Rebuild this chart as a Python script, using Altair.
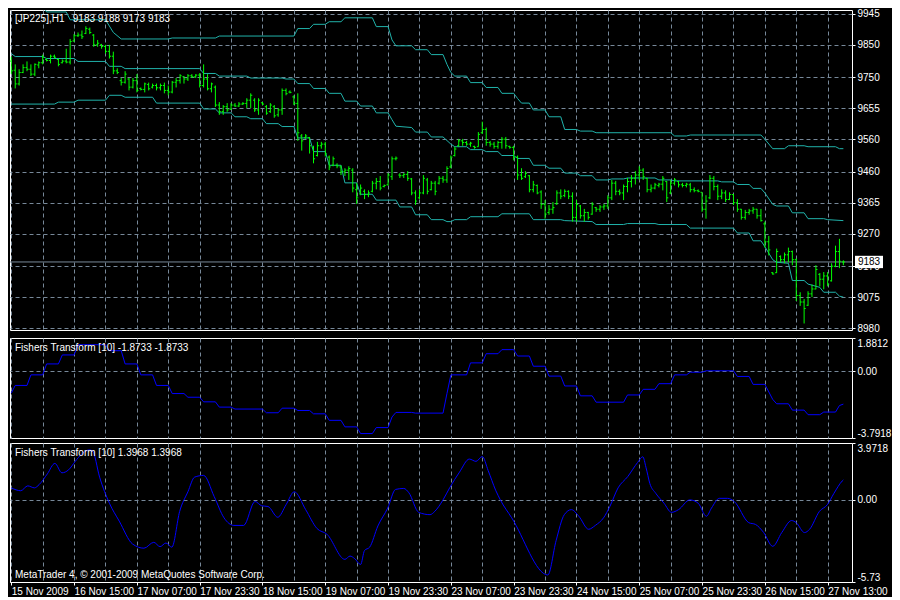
import json
import altair as alt
import pandas as pd

# ---------------------------------------------------------------- texts
symbol_title = "[JP225],H1\u00a0\u00a0 9183 9188 9173 9183"
fisher_slow_title = "Fishers Transform [10] -1.8733 -1.8733"
fisher_fast_title = "Fishers Transform [10] 1.3968 1.3968"
footer_text = "MetaTrader 4, \u00a9 2001-2009 MetaQuotes Software Corp."

# one label every 16 hourly bars
time_labels = ["15 Nov 2009", "16 Nov 15:00", "17 Nov 07:00", "17 Nov 23:30",
               "18 Nov 15:00", "19 Nov 07:00", "19 Nov 23:30", "23 Nov 07:00",
               "23 Nov 23:30", "24 Nov 15:00", "25 Nov 07:00", "25 Nov 23:30",
               "26 Nov 15:00", "27 Nov 13:00"]

last_price = 9183
price_ticks = [9945, 9850, 9750, 9655, 9560, 9460, 9365, 9270, 9170, 9075, 8980]
price_domain = [8974, 9957]

# ---------------------------------------------------------------- OHLC (H1 bars)
bar_open = [
    9800, 9772, 9730, 9765, 9780, 9775, 9760, 9788, 9795, 9805,
    9802, 9815, 9805, 9795, 9800, 9797, 9862, 9878, 9880, 9885,
    9898, 9880, 9850, 9850, 9845, 9830, 9815, 9770, 9740, 9735,
    9745, 9720, 9740, 9716, 9713, 9728, 9720, 9725, 9718, 9725,
    9710, 9705, 9735, 9740, 9752, 9745, 9755, 9752, 9757, 9725,
    9745, 9715, 9720, 9665, 9645, 9660, 9652, 9665, 9662, 9668,
    9670, 9680, 9680, 9650, 9672, 9660, 9645, 9660, 9635, 9650,
    9710, 9705, 9690, 9670, 9570, 9565, 9565, 9535, 9510, 9540,
    9545, 9505, 9480, 9480, 9475, 9460, 9465, 9465, 9405, 9392,
    9400, 9390, 9400, 9425, 9430, 9415, 9420, 9445, 9500, 9450,
    9448, 9452, 9438, 9395, 9380, 9395, 9435, 9405, 9425, 9425,
    9440, 9435, 9475, 9510, 9540, 9555, 9550, 9545, 9538, 9537,
    9580, 9590, 9550, 9545, 9538, 9550, 9560, 9538, 9535, 9505,
    9450, 9445, 9448, 9405, 9418, 9398, 9360, 9335, 9345, 9362,
    9395, 9387, 9400, 9385, 9320, 9355, 9325, 9335, 9330, 9350,
    9345, 9352, 9355, 9380, 9425, 9400, 9395, 9415, 9430, 9440,
    9450, 9465, 9440, 9405, 9410, 9418, 9422, 9430, 9395, 9425,
    9430, 9420, 9418, 9420, 9405, 9402, 9397, 9345, 9380, 9440,
    9415, 9385, 9395, 9375, 9390, 9365, 9345, 9320, 9335, 9340,
    9345, 9325, 9300, 9245, 9150, 9150, 9200, 9190, 9205, 9215,
    9190, 9080, 9060, 9050, 9085, 9100, 9145, 9130, 9140, 9125,
    9170, 9215, 9183]
bar_high = [
    9814, 9790, 9775, 9790, 9799, 9790, 9793, 9799, 9820, 9808,
    9820, 9820, 9808, 9805, 9838, 9868, 9883, 9888, 9894, 9907,
    9903, 9883, 9865, 9853, 9850, 9850, 9829, 9778, 9748, 9769,
    9748, 9748, 9760, 9719, 9734, 9734, 9731, 9731, 9731, 9734,
    9725, 9739, 9748, 9760, 9754, 9760, 9760, 9760, 9763, 9790,
    9760, 9734, 9725, 9674, 9665, 9671, 9671, 9671, 9674, 9674,
    9686, 9701, 9686, 9686, 9674, 9665, 9671, 9665, 9656, 9716,
    9716, 9710, 9695, 9701, 9576, 9576, 9567, 9540, 9552, 9552,
    9552, 9510, 9507, 9486, 9480, 9471, 9477, 9471, 9426, 9421,
    9406, 9403, 9432, 9441, 9447, 9421, 9456, 9507, 9507, 9456,
    9456, 9462, 9441, 9403, 9406, 9450, 9441, 9432, 9432, 9447,
    9447, 9477, 9510, 9537, 9561, 9561, 9555, 9552, 9540, 9582,
    9614, 9596, 9555, 9552, 9555, 9567, 9567, 9540, 9540, 9510,
    9471, 9462, 9450, 9432, 9421, 9403, 9373, 9358, 9367, 9403,
    9406, 9406, 9403, 9397, 9373, 9358, 9346, 9337, 9367, 9352,
    9358, 9361, 9388, 9435, 9432, 9406, 9421, 9441, 9450, 9462,
    9477, 9471, 9441, 9421, 9426, 9426, 9447, 9432, 9435, 9441,
    9432, 9426, 9426, 9426, 9412, 9406, 9397, 9388, 9450, 9447,
    9421, 9406, 9403, 9397, 9391, 9376, 9346, 9343, 9346, 9352,
    9346, 9346, 9307, 9263, 9152, 9224, 9203, 9212, 9227, 9218,
    9194, 9090, 9069, 9093, 9114, 9173, 9149, 9152, 9152, 9179,
    9233, 9254, 9188]
bar_low = [
    9760, 9716, 9725, 9763, 9769, 9754, 9754, 9778, 9790, 9799,
    9793, 9808, 9784, 9793, 9793, 9790, 9859, 9874, 9868, 9883,
    9883, 9844, 9844, 9838, 9823, 9808, 9760, 9760, 9725, 9731,
    9710, 9716, 9704, 9710, 9704, 9710, 9716, 9710, 9710, 9701,
    9695, 9701, 9719, 9731, 9731, 9739, 9748, 9748, 9719, 9719,
    9710, 9704, 9659, 9635, 9635, 9644, 9650, 9659, 9659, 9665,
    9656, 9656, 9644, 9635, 9665, 9635, 9641, 9626, 9629, 9635,
    9695, 9701, 9665, 9555, 9525, 9561, 9516, 9486, 9507, 9531,
    9507, 9465, 9477, 9471, 9450, 9447, 9435, 9397, 9361, 9388,
    9376, 9382, 9397, 9406, 9403, 9412, 9418, 9435, 9495, 9441,
    9441, 9432, 9388, 9358, 9376, 9391, 9391, 9403, 9388, 9421,
    9426, 9426, 9471, 9507, 9537, 9540, 9540, 9537, 9531, 9537,
    9576, 9540, 9537, 9531, 9531, 9531, 9531, 9531, 9495, 9435,
    9435, 9441, 9397, 9397, 9391, 9346, 9316, 9328, 9331, 9358,
    9376, 9382, 9376, 9307, 9307, 9316, 9307, 9313, 9328, 9337,
    9337, 9343, 9346, 9373, 9388, 9388, 9373, 9397, 9412, 9421,
    9435, 9435, 9397, 9397, 9406, 9412, 9403, 9367, 9391, 9418,
    9412, 9412, 9412, 9397, 9397, 9397, 9337, 9316, 9376, 9403,
    9373, 9376, 9367, 9373, 9358, 9337, 9313, 9313, 9328, 9331,
    9316, 9307, 9227, 9203, 9144, 9149, 9182, 9179, 9182, 9173,
    9063, 9048, 8994, 9048, 9075, 9099, 9108, 9099, 9108, 9123,
    9167, 9164, 9173]
bar_close = [
    9770, 9730, 9765, 9780, 9775, 9760, 9790, 9795, 9812, 9802,
    9815, 9812, 9790, 9800, 9797, 9860, 9878, 9880, 9875, 9900,
    9888, 9850, 9855, 9845, 9830, 9815, 9770, 9765, 9735, 9760,
    9720, 9740, 9710, 9713, 9730, 9715, 9725, 9718, 9725, 9710,
    9705, 9735, 9740, 9755, 9745, 9755, 9752, 9757, 9725, 9745,
    9715, 9730, 9665, 9645, 9660, 9650, 9665, 9662, 9668, 9670,
    9680, 9695, 9650, 9680, 9668, 9640, 9665, 9632, 9650, 9710,
    9700, 9704, 9670, 9580, 9555, 9570, 9540, 9500, 9540, 9545,
    9515, 9475, 9500, 9478, 9460, 9465, 9470, 9410, 9380, 9410,
    9390, 9395, 9425, 9430, 9410, 9418, 9450, 9500, 9502, 9448,
    9452, 9440, 9395, 9370, 9395, 9440, 9400, 9425, 9400, 9440,
    9435, 9470, 9505, 9530, 9555, 9550, 9545, 9548, 9535, 9575,
    9590, 9550, 9545, 9538, 9550, 9560, 9540, 9535, 9505, 9450,
    9440, 9455, 9405, 9420, 9395, 9360, 9330, 9345, 9350, 9395,
    9385, 9400, 9385, 9320, 9360, 9325, 9335, 9320, 9360, 9345,
    9352, 9355, 9380, 9425, 9400, 9395, 9415, 9430, 9440, 9450,
    9465, 9445, 9405, 9410, 9420, 9422, 9440, 9380, 9425, 9435,
    9420, 9418, 9422, 9405, 9402, 9400, 9345, 9370, 9440, 9415,
    9385, 9395, 9375, 9390, 9365, 9345, 9320, 9335, 9340, 9345,
    9325, 9310, 9245, 9220, 9146, 9215, 9190, 9205, 9215, 9190,
    9080, 9060, 9040, 9085, 9100, 9160, 9130, 9140, 9115, 9170,
    9215, 9185, 9183]

# ---------------------------------------------------------------- channel lines (bar index, price)
upper_band = [
    (0, 9978), (8, 9969), (9, 9951), (14, 9951), (15, 9927), (24, 9927), (26, 9888),
    (28, 9868), (40, 9868), (41, 9871), (52, 9871), (53, 9877), (72, 9877), (73, 9900),
    (76, 9900), (77, 9913), (80, 9913), (81, 9921), (84, 9921), (85, 9933), (92, 9933),
    (93, 9906), (96, 9906), (97, 9865), (98, 9847), (102, 9847), (103, 9835), (106, 9835),
    (107, 9820), (110, 9820), (111, 9790), (112, 9765), (113, 9754), (116, 9754),
    (117, 9734), (120, 9734), (121, 9719), (124, 9719), (125, 9701), (128, 9701),
    (129, 9685), (130, 9671), (132, 9671), (133, 9650), (136, 9650), (137, 9629),
    (140, 9629), (141, 9590), (144, 9590), (145, 9585), (148, 9585), (149, 9580),
    (168, 9580), (169, 9570), (172, 9570), (173, 9573), (191, 9573), (192, 9560),
    (194, 9531), (197, 9531), (198, 9540), (202, 9540), (203, 9537), (210, 9537),
    (211, 9531), (212, 9531)]
middle_band = [
    (0, 9823), (1, 9814), (8, 9814), (9, 9808), (16, 9808), (17, 9799), (24, 9799),
    (25, 9784), (28, 9784), (29, 9777), (48, 9777), (49, 9762), (52, 9762), (53, 9754),
    (60, 9754), (61, 9748), (69, 9748), (70, 9745), (72, 9745), (73, 9731), (76, 9731),
    (77, 9716), (80, 9716), (81, 9701), (84, 9701), (85, 9677), (88, 9677), (89, 9662),
    (92, 9662), (93, 9641), (96, 9641), (97, 9620), (98, 9600), (102, 9596), (103, 9582),
    (106, 9582), (107, 9567), (110, 9567), (112, 9545), (113, 9537), (116, 9537),
    (117, 9528), (120, 9528), (121, 9522), (124, 9522), (125, 9510), (128, 9510),
    (129, 9501), (132, 9501), (133, 9480), (136, 9480), (137, 9471), (140, 9471),
    (141, 9456), (144, 9456), (145, 9448), (148, 9448), (149, 9435), (152, 9435),
    (153, 9438), (156, 9438), (157, 9441), (164, 9441), (165, 9435), (168, 9435),
    (169, 9432), (180, 9432), (181, 9429), (184, 9429), (185, 9421), (188, 9421),
    (189, 9409), (191, 9409), (192, 9395), (194, 9360), (195, 9355), (198, 9355),
    (199, 9334), (202, 9334), (203, 9316), (207, 9316), (208, 9313), (212, 9310)]
lower_band = [
    (0, 9668), (11, 9668), (12, 9674), (16, 9674), (17, 9680), (24, 9680), (25, 9695),
    (28, 9695), (29, 9689), (36, 9689), (37, 9671), (48, 9671), (49, 9653), (52, 9653),
    (53, 9641), (56, 9641), (57, 9629), (60, 9629), (61, 9623), (64, 9623), (65, 9608),
    (68, 9608), (69, 9599), (72, 9599), (73, 9564), (76, 9564), (77, 9522), (80, 9522),
    (81, 9480), (84, 9480), (85, 9426), (88, 9426), (89, 9391), (92, 9391), (93, 9373),
    (98, 9373), (99, 9352), (102, 9352), (103, 9328), (106, 9328), (107, 9313),
    (110, 9313), (111, 9307), (112, 9307), (113, 9313), (116, 9313), (117, 9322),
    (124, 9322), (125, 9331), (132, 9331), (133, 9313), (140, 9313), (141, 9310),
    (148, 9307), (149, 9298), (156, 9298), (157, 9301), (164, 9301), (165, 9298),
    (172, 9298), (173, 9287), (184, 9287), (185, 9272), (188, 9272), (189, 9248),
    (191, 9248), (192, 9230), (194, 9190), (195, 9182), (198, 9179), (199, 9126),
    (202, 9126), (203, 9115), (206, 9105), (207, 9090), (210, 9090), (211, 9078),
    (212, 9075)]

# ---------------------------------------------------------------- Fisher transforms
fisher_slow = [
    (0, -1.25), (1, -0.81), (4, -0.81), (5, -0.21), (8, -0.21), (9, 0.41), (12, 0.41),
    (13, 0.92), (16, 0.92), (17, 1.50), (24, 1.50), (25, 1.16), (28, 1.16), (29, 0.41),
    (32, 0.41), (33, -0.21), (36, -0.21), (37, -0.81), (40, -0.81), (41, -1.27),
    (44, -1.27), (45, -1.48), (48, -1.48), (49, -1.74), (52, -1.74), (53, -2.04),
    (56, -2.04), (57, -2.15), (64, -2.15), (65, -2.36), (68, -2.36), (69, -2.10),
    (72, -2.10), (73, -2.23), (76, -2.23), (77, -2.42), (80, -2.42), (81, -2.79),
    (84, -2.79), (85, -3.16), (88, -3.16), (89, -3.54), (92, -3.54), (93, -3.20),
    (96, -3.20), (97, -2.60), (98, -2.34), (102, -2.34), (103, -2.38), (110, -2.38),
    (111, -1.27), (112, -0.21), (116, -0.21), (117, 0.47), (120, 0.47), (121, 0.99),
    (124, 0.99), (125, 1.22), (128, 1.22), (129, 0.86), (132, 0.86), (133, 0.28),
    (136, 0.28), (137, -0.28), (140, -0.28), (141, -0.84), (144, -0.84), (145, -1.40),
    (148, -1.40), (149, -1.76), (156, -1.76), (157, -1.35), (160, -1.35), (161, -1.03),
    (164, -1.03), (165, -0.71), (168, -0.71), (169, -0.21), (172, -0.21), (173, -0.06),
    (176, -0.06), (177, 0.02), (184, 0.02), (185, -0.30), (188, -0.30), (189, -0.75),
    (192, -0.75), (194, -1.60), (195, -1.85), (198, -1.85), (199, -2.21), (202, -2.21),
    (203, -2.47), (206, -2.47), (207, -2.32), (210, -2.32), (211, -1.95), (212, -1.87)]
fisher_fast = [
    (0, 0.84), (2.4, 0.64), (4.2, 0.98), (5.9, 0.84), (7.1, 1.07), (9.2, 1.82),
    (11.1, 2.55), (12.9, 1.89), (14.6, 2.10), (16.3, 2.69), (17.9, 3.19), (19.9, 3.49),
    (20.7, 3.42), (22.5, 1.59), (25, -0.23), (27.5, -1.48), (30.9, -3.08), (33.8, -3.37),
    (36.3, -2.96), (37.9, -3.26), (39.4, -3.01), (40.9, -3.30), (42.9, -0.80), (45, 0.57),
    (46.7, 1.59), (49, 1.71), (51.7, 0.23), (54.2, -1.25), (56.7, -1.78), (59.2, -1.78),
    (62.1, -0.11), (63.8, -0.41), (65.4, -0.46), (67.9, -1.21), (70, -0.34), (72.1, 0.57),
    (75, -0.68), (77.9, -2.00), (80.4, -2.39), (85, -4.15), (86.3, -3.92), (87.5, -4.10),
    (89, -4.51), (90, -3.53), (91.3, -3.30), (93.4, -1.82), (95.9, -0.57), (97.9, 0.73),
    (100, 0.80), (101.3, 0.50), (103.8, -0.87), (106.7, -1.03), (107.9, -0.80),
    (110, 0.00), (111.7, 0.85), (114.2, 1.94), (116.7, 2.85), (118.4, 2.69), (120, 3.03),
    (121.5, 2.05), (123.4, 0.68), (124.6, 0.00), (127.5, -1.25), (136.7, -5.24),
    (138.8, -2.85), (140.9, -1.03), (142.7, -0.68), (144.6, -1.14), (147.1, -2.05),
    (148.8, -1.78), (150.9, -1.25), (152.5, -0.46), (154.6, 0.84), (157.1, 1.64),
    (159.6, 2.62), (160.9, 3.01), (161.7, 2.28), (162.7, 1.14), (164.2, 0.46),
    (166.3, -0.23), (168.2, -0.87), (170, -0.68), (172.9, 0.00), (175, -0.23),
    (177.1, -1.14), (178.4, -0.57), (180.4, 0.11), (182.5, 0.11), (184.2, -0.11),
    (187.9, -1.59), (189.6, -1.71), (191.7, -2.28), (194, -3.24), (196.3, -2.28),
    (198.8, -1.44), (200, -1.59), (202.1, -2.28), (203.4, -2.05), (205.9, -0.80),
    (207.9, -0.34), (209.6, 0.46), (211.7, 1.32), (212, 1.40)]

fisher_slow_domain = [-3.7918, 1.8812]
fisher_slow_ticks = [1.8812, 0, -3.7918]
fisher_slow_tick_text = ["1.8812", "0.00", "-3.7918"]
fisher_fast_domain = [-5.73, 3.9718]
fisher_fast_ticks = [3.9718, 0, -5.73]
fisher_fast_tick_text = ["3.9718", "0.00", "-5.73"]

# ---------------------------------------------------------------- style
FONT = "Liberation Sans"
FS = 10
W = 842
H1, H2, H3 = 320, 100, 139
GRID = "#778899"
DASH = [4, 3]
BAR_GREEN = "#00FF00"
BAND = "#20B2AA"
BLUE = "#0000FF"
X_DOMAIN = [-0.33, 214.2]

n_bars = len(bar_high)
bars = pd.DataFrame({"i": list(range(n_bars)), "o": bar_open, "h": bar_high,
                     "l": bar_low, "c": bar_close})
bands = pd.DataFrame(
    [{"band": "upper", "i": i, "v": v} for i, v in upper_band]
    + [{"band": "middle", "i": i, "v": v} for i, v in middle_band]
    + [{"band": "lower", "i": i, "v": v} for i, v in lower_band])
slow_df = pd.DataFrame(fisher_slow, columns=["i", "v"])
fast_df = pd.DataFrame(fisher_fast, columns=["i", "v"])

xscale = alt.Scale(domain=X_DOMAIN, nice=False, zero=False)
grid_vals = list(range(0, n_bars, 8))

x_axis_plain = alt.Axis(values=grid_vals, labels=False, ticks=False, domain=False,
                        grid=True, gridColor=GRID, gridDash=DASH, title=None)
x_axis_bottom = alt.Axis(
    values=grid_vals,
    labelExpr="datum.value % 16 === 0 ? " + json.dumps(time_labels) + "[datum.value / 16] : ''",
    labelAlign="left", labelBaseline="top", labelPadding=1, labelOverlap=False,
    labelFlush=False, labelColor="white", labelFont=FONT, labelFontSize=FS,
    tickSize=3, tickColor="white",
    tickOpacity={"condition": {"test": "datum.value % 16 === 0", "value": 1}, "value": 0},
    domain=True, domainColor="white", grid=True, gridColor=GRID, gridDash=DASH, title=None)


def y_axis(values, label_expr=None, zero_only_grid=False, flush=False):
    kw = dict(orient="right", values=values, grid=True, gridColor=GRID, gridDash=DASH,
              domain=False, tickSize=3, tickColor="white", labelColor="white",
              labelFont=FONT, labelFontSize=FS, labelPadding=2, labelOverlap=False,
              labelFlush=flush, title=None)
    if label_expr:
        kw["labelExpr"] = label_expr
    else:
        kw["format"] = "d"
    if zero_only_grid:
        kw["gridOpacity"] = {"condition": {"test": "datum.value === 0", "value": 1}, "value": 0}
    return alt.Axis(**kw)


def text_layer(txt, x, y, color="white", align="left"):
    return alt.Chart(pd.DataFrame({"t": [txt]})).mark_text(
        align=align, baseline="middle", color=color, font=FONT, fontSize=FS
    ).encode(text="t:N", x=alt.value(x), y=alt.value(y))


# ---------------------------------------------------------------- panel 1: price
yscale1 = alt.Scale(domain=price_domain, nice=False, zero=False)
yaxis1 = y_axis(price_ticks)
X1 = alt.X("i:Q", scale=xscale, axis=x_axis_plain)

price_line = alt.Chart(pd.DataFrame({"p": [last_price]})).mark_rule(
    color=GRID, strokeWidth=1).encode(y=alt.Y("p:Q", scale=yscale1, axis=yaxis1))

band_lines = alt.Chart(bands).mark_line(color=BAND, strokeWidth=1, clip=True).encode(
    x=X1, y=alt.Y("v:Q", scale=yscale1, axis=yaxis1), detail="band:N")

hl = alt.Chart(bars).mark_rule(color=BAR_GREEN, strokeWidth=1).encode(
    x=X1, y=alt.Y("l:Q", scale=yscale1, axis=yaxis1), y2="h:Q")
open_tick = alt.Chart(bars).transform_calculate(io="datum.i - 0.4").mark_rule(
    color=BAR_GREEN, strokeWidth=1).encode(
    x=alt.X("io:Q", scale=xscale, axis=x_axis_plain), x2="i:Q",
    y=alt.Y("o:Q", scale=yscale1, axis=yaxis1))
close_tick = alt.Chart(bars).transform_calculate(ic="datum.i + 0.4").mark_rule(
    color=BAR_GREEN, strokeWidth=1).encode(
    x=alt.X("i:Q", scale=xscale, axis=x_axis_plain), x2="ic:Q",
    y=alt.Y("c:Q", scale=yscale1, axis=yaxis1))

price_box = alt.Chart(pd.DataFrame({"p": [last_price]})).mark_point(
    shape="M-1,-0.44L1,-0.44L1,0.44L-1,0.44Z", filled=True, color="white",
    size=784, opacity=1, strokeWidth=0).encode(
    x=alt.value(W + 17), y=alt.Y("p:Q", scale=yscale1, axis=yaxis1))
price_box_text = alt.Chart(pd.DataFrame({"p": [last_price]})).mark_text(
    color="black", font=FONT, fontSize=FS, align="center", baseline="middle").encode(
    x=alt.value(W + 17), y=alt.Y("p:Q", scale=yscale1, axis=yaxis1),
    text=alt.Text("p:Q", format="d"))

panel1 = alt.layer(price_line, band_lines, hl, open_tick, close_tick,
                   text_layer(symbol_title, 5, 9), price_box, price_box_text
                   ).properties(width=W, height=H1)

# ---------------------------------------------------------------- panel 2: slow Fisher
slow_expr = json.dumps(fisher_slow_tick_text) + "[indexof(" + json.dumps(fisher_slow_ticks) + ", datum.value)]"
panel2 = alt.layer(
    alt.Chart(slow_df).mark_line(color=BLUE, strokeWidth=1, clip=True).encode(
        x=X1,
        y=alt.Y("v:Q", scale=alt.Scale(domain=fisher_slow_domain, nice=False, zero=False),
                axis=y_axis(fisher_slow_ticks, slow_expr, True, True))),
    text_layer(fisher_slow_title, 5, 10),
).properties(width=W, height=H2)

# ---------------------------------------------------------------- panel 3: fast Fisher
fast_expr = json.dumps(fisher_fast_tick_text) + "[indexof(" + json.dumps(fisher_fast_ticks) + ", datum.value)]"
panel3 = alt.layer(
    alt.Chart(fast_df).mark_line(color=BLUE, strokeWidth=1, clip=True,
                                 interpolate="monotone").encode(
        x=alt.X("i:Q", scale=xscale, axis=x_axis_bottom),
        y=alt.Y("v:Q", scale=alt.Scale(domain=fisher_fast_domain, nice=False, zero=False),
                axis=y_axis(fisher_fast_ticks, fast_expr, True, True))),
    text_layer(fisher_fast_title, 5, 10),
    text_layer(footer_text, 5, H3 - 7),
).properties(width=W, height=H3)

chart = alt.vconcat(panel1, panel2, panel3, spacing=3).properties(
    padding={"left": 0, "top": 0, "right": 0, "bottom": 0},
    background="black",
).configure_view(stroke="white", strokeWidth=1).configure_axis(
    labelFont=FONT, labelFontSize=FS)

chart.save("out.html", embed_options={"renderer": "svg", "actions": False})
